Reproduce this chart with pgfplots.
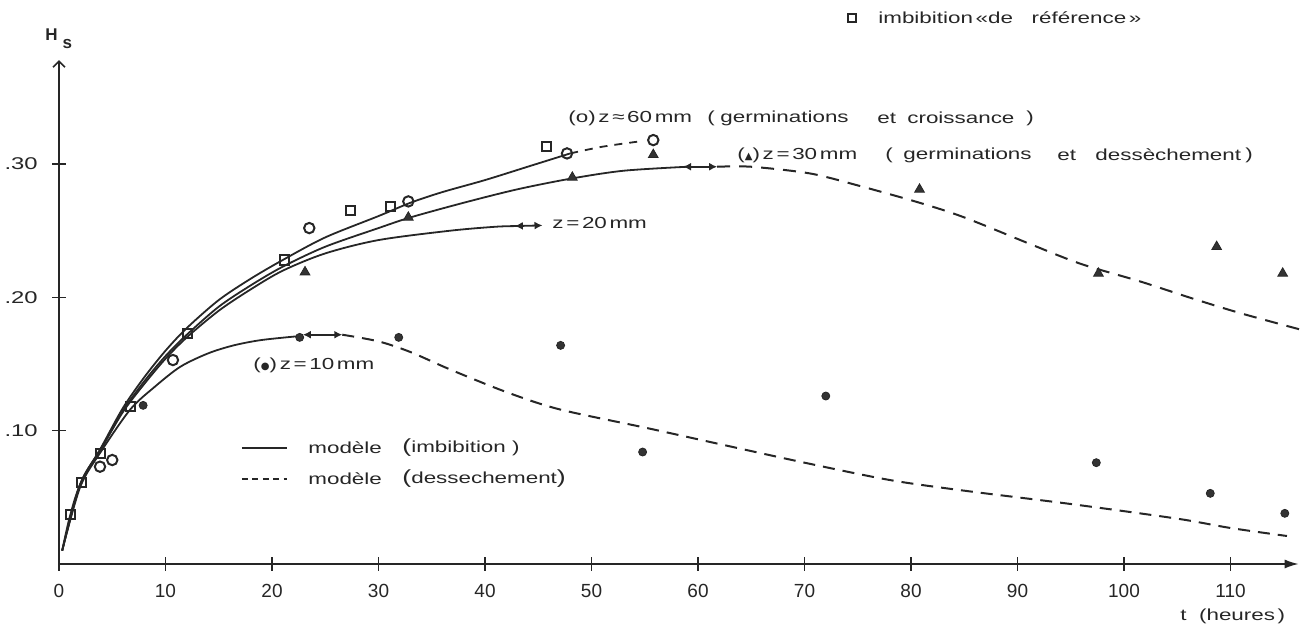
\documentclass[border=0pt]{standalone}
\usepackage{fontspec}
\setmainfont{Liberation Sans}
\newfontfamily\lab[FakeStretch=1.4]{Liberation Sans}
\newfontfamily\sym{DejaVu Sans}
\usepackage{pgfplots}
\pgfplotsset{compat=1.18}
\usetikzlibrary{arrows.meta}
\tikzset{
  curve/.style={black!85, line width=0.9pt, smooth},
  lbl/.style={anchor=west, inner sep=0pt, font=\lab\fontsize{8}{9.6}\selectfont, text=black!85},
}

\begin{document}
\begin{tikzpicture}
\useasboundingbox (-29.5pt,-35.5pt) rectangle (626.5pt,282pt);
\begin{axis}[
  anchor=south west, at={(0pt,0pt)},
  x=5.325pt, y=666.5pt,
  xmin=0, xmax=116.4, ymin=0, ymax=0.378,
  clip=false,
  axis lines=left,
  axis line style={black!85, line width=0.8pt},
  x axis line style={-{Latex[length=7pt,width=4.5pt]}},
  y axis line style={-{Straight Barb[length=3pt,width=6pt]}},
  tick align=center,
  major tick length=7pt,
  tick style={black!85, line width=0.8pt},
  xtick={0,10,20,30,40,50,60,70,80,90,100,110},
  xticklabels={0,10,20,30,40,50,60,70,80,90,100,110},
  ytick={0.1,0.2,0.3},
  yticklabels={.10,.20,.30},
  xticklabel style={font=\fontsize{9.5}{11}\selectfont, text=black!85, inner sep=0pt, yshift=-6.5pt},
  yticklabel style={font=\lab\fontsize{8.5}{10}\selectfont, text=black!85, inner sep=0pt, xshift=-7pt},
]
% ---------- imbibition model curves (solid) ----------
% z = 60 mm
\addplot[curve] coordinates {(0.3,0.010)(1,0.035)(2,0.060)(4,0.088)(6,0.117)(8,0.140)(10,0.160)(12,0.177)(15,0.198)(18,0.214)(21,0.228)(25,0.245)(30,0.261)(33,0.271)(36,0.279)(40,0.288)(44,0.298)(48,0.308)};
\addplot[black!85, line width=0.9pt, smooth, dash pattern=on 4pt off 3.5pt] coordinates {(48,0.308)(51,0.313)(54.5,0.317)};
% z = 30 mm
\addplot[curve] coordinates {(0.3,0.010)(2,0.060)(4,0.087)(6,0.115)(8,0.137)(10,0.156)(12,0.172)(15,0.193)(18,0.209)(21,0.223)(25,0.238)(30,0.252)(33,0.260)(38,0.271)(43,0.281)(48,0.289)(53,0.295)(59,0.298)};
\addplot[black!85, line width=0.9pt, {Latex[length=4pt,width=4pt]}-{Latex[length=4pt,width=4pt]}] coordinates {(58.6,0.298)(61.8,0.298)};
\addplot[black!85, line width=1pt, smooth, dash pattern=on 6.5pt off 4.5pt] coordinates {(61.8,0.298)(65,0.298)(70.5,0.293)(75,0.284)(80.8,0.271)(85,0.260)(91.5,0.239)(96,0.225)(101.5,0.212)(106.5,0.199)(111,0.188)(116.5,0.176)};
% z = 20 mm
\addplot[curve] coordinates {(0.3,0.010)(2,0.060)(4,0.087)(6,0.114)(8,0.135)(10,0.154)(12,0.170)(15,0.190)(18,0.206)(21,0.220)(25,0.233)(30,0.243)(36.7,0.250)(41,0.253)(43,0.2535)};
\addplot[black!85, line width=0.9pt, {Latex[length=4pt,width=4pt]}-{Latex[length=4pt,width=4pt]}] coordinates {(42.8,0.2535)(45.4,0.254)};
% z = 10 mm
\addplot[curve] coordinates {(0.3,0.010)(2,0.058)(4,0.085)(6.7,0.116)(9,0.133)(11.4,0.148)(14,0.158)(16.4,0.164)(19,0.168)(22.6,0.171)};
\addplot[black!85, line width=0.9pt, {Latex[length=4pt,width=4pt]}-{Latex[length=4pt,width=4pt]}] coordinates {(22.9,0.172)(26.6,0.172)};
\addplot[black!85, line width=1pt, smooth, dash pattern=on 6pt off 4pt] coordinates {(26.6,0.172)(30,0.167)(33,0.159)(36.7,0.146)(42,0.129)(47,0.116)(55.2,0.102)(62,0.090)(70,0.076)(78,0.063)(85,0.055)(95,0.045)(105,0.034)(110,0.027)(115.3,0.021)};

% ---------- data ----------
% squares: imbibition de reference
\addplot[only marks, mark=square, mark size=2.3pt, mark options={black!85, line width=1pt}] coordinates {(1.1,0.037)(2.1,0.061)(3.9,0.083)(6.7,0.118)(12.1,0.173)(21.2,0.228)(27.4,0.265)(31.1,0.268)(45.8,0.313)};
% circles: z = 60 mm
\addplot[only marks, mark=o, mark size=2.6pt, mark options={black!85, line width=1pt}] coordinates {(3.85,0.073)(5.0,0.078)(10.7,0.153)(23.5,0.252)(32.8,0.272)(47.7,0.308)(55.8,0.318)};
% triangles: z = 30 mm
\addplot[only marks, mark=triangle*, mark size=2.8pt, mark options={black!85, fill=black!80}] coordinates {(23.1,0.219)(32.8,0.260)(48.2,0.290)(55.8,0.307)(80.8,0.281)(97.6,0.218)(108.7,0.238)(114.9,0.218)};
% dots: z = 10 mm
\addplot[only marks, mark=*, mark size=2pt, mark options={black!85, fill=black!80}] coordinates {(7.9,0.119)(22.6,0.170)(31.9,0.170)(47.1,0.164)(54.8,0.084)(72.0,0.126)(97.4,0.076)(108.1,0.053)(115.1,0.038)};

% ---------- legend ----------
\addplot[black!85, line width=0.9pt] coordinates {(17.18,0.0870)(21.41,0.0870)};
\addplot[black!85, line width=1pt, dash pattern=on 3pt off 2.2pt] coordinates {(17.18,0.0638)(21.41,0.0638)};
\node[lbl] at (axis cs:23.38,0.0870) {modèle};
\node[lbl] at (axis cs:32.21,0.0870) {\fontsize{9.5}{10}\selectfont(\lab\fontsize{8}{9.6}\selectfont imbibition )};
\node[lbl] at (axis cs:23.38,0.0638) {modèle};
\node[lbl] at (axis cs:32.21,0.0638) {\fontsize{9.5}{10}\selectfont(\lab\fontsize{8}{9.6}\selectfont dessechement\fontsize{9.5}{10}\selectfont)};

\addplot[only marks, mark=square, mark size=1.9pt, mark options={black!85, line width=0.9pt}] coordinates {(74.46,0.4096)};
\node[lbl] at (axis cs:76.90,0.4096) {imbibition\,«de\ \ \ référence\,»};

% ---------- annotations ----------
\node[lbl] at (axis cs:47.79,0.3346) {(o)\,z\,≈\,60\,mm};
\node[lbl] at (axis cs:60.85,0.3346) {(};
\node[lbl] at (axis cs:62.07,0.3346) {germinations};
\node[lbl] at (axis cs:76.81,0.3346) {et};
\node[lbl] at (axis cs:79.62,0.3346) {croissance};
\node[lbl] at (axis cs:90.80,0.3346) {)};

\node[lbl] at (axis cs:63.66,0.3068) {({\sym\fontsize{5}{5}\selectfont ▲})\,z\,=\,30\,mm};
\node[lbl] at (axis cs:77.56,0.3068) {(};
\node[lbl] at (axis cs:79.25,0.3068) {germinations};
\node[lbl] at (axis cs:93.71,0.3068) {et};
\node[lbl] at (axis cs:97.28,0.3068) {dessèchement};
\node[lbl] at (axis cs:111.36,0.3068) {)};

\node[lbl] at (axis cs:46.29,0.2558) {z\,=\,20\,mm};
\node[lbl] at (axis cs:18.22,0.1493) {({\sym\fontsize{5}{5}\selectfont ●})\,z\,=\,10\,mm};

\node[anchor=west, inner sep=0pt, text=black!85] at (axis cs:-1.31,0.3938) {\fontsize{8.5}{10}\selectfont\bfseries H\hspace{2.5pt}\raisebox{-4pt}{s}};
\node[lbl] at (axis cs:105.26,-0.0390) {t\ \ (heures\,)};
\end{axis}
\end{tikzpicture}
\end{document}
